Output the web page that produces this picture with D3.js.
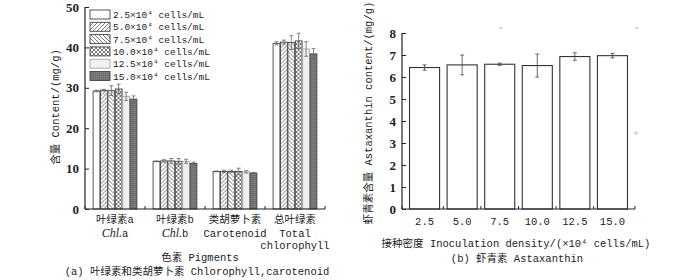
<!DOCTYPE html>
<html><head><meta charset="utf-8">
<script src="https://cdn.jsdelivr.net/npm/d3@7"></script>
<style>
body{margin:0;background:#fff;}
svg{display:block;}
.mono{font-family:"Liberation Mono","Noto Sans CJK SC",monospace;}
.num{font-family:"Liberation Serif","DejaVu Serif",serif;font-weight:bold;}
</style></head>
<body><svg id="c" width="700" height="280"></svg>
<script>
// ---- data ----
const pigments = ["Chl.a","Chl.b","Carotenoid","Total"];
const pigmentCN = ["叶绿素a","叶绿素b","类胡萝卜素","总叶绿素"];
const pigmentEN = [["Chl.a"],["Chl.b"],["Carotenoid"],["Total","chlorophyll"]];
const densities = ["2.5","5.0","7.5","10.0","12.5","15.0"];
const legendLabels = ["2.5×10⁴ cells/mL","5.0×10⁴ cells/mL","7.5×10⁴ cells/mL","10.0×10⁴ cells/mL","12.5×10⁴ cells/mL","15.0×10⁴ cells/mL"];
// values per pigment, one per density
const chlA      = [29.2, 29.4, 29.3, 29.7, 27.9, 27.2];
const chlAErr   = [0.2, 0.2, 1.2, 1.2, 1.0, 0.8];
const chlB      = [11.8, 11.9, 11.9, 11.8, 11.8, 11.3];
const chlBErr   = [0.1, 0.3, 0.6, 0.7, 0.5, 0.3];
const carot     = [9.3, 9.3, 9.3, 9.3, 9.2, 8.9];
const carotErr  = [0.1, 0.3, 0.3, 0.8, 0.3, 0.1];
const totalChl  = [41.0, 41.3, 41.2, 41.6, 39.6, 38.4];
const totalErr  = [0.4, 0.5, 1.7, 1.9, 1.8, 1.3];
const leftTicks = [0,10,20,30,40,50];
const astax     = [6.43, 6.55, 6.58, 6.52, 6.93, 6.97];
const astaxErr  = [0.12, 0.45, 0.05, 0.52, 0.17, 0.10];
const rightTicks = [0,1,2,3,4,5,6,7,8];

const svg = d3.select("#c");
const defs = svg.append("defs");
function hatch(id, paths, bg){
  const p = defs.append("pattern").attr("id",id).attr("patternUnits","userSpaceOnUse")
    .attr("width",4).attr("height",4);
  p.append("rect").attr("width",4).attr("height",4).attr("fill",bg);
  paths.forEach(d=>p.append("path").attr("d",d).attr("stroke","#555").attr("stroke-width",0.8).attr("fill","none"));
}
hatch("p1",["M-1,5 L5,-1","M-1,1 L1,-1","M3,5 L5,3"],"#fff");
hatch("p2",["M-1,-1 L5,5","M3,-1 L5,1","M-1,3 L1,5"],"#fff");
hatch("p3",["M-1,5 L5,-1","M-1,-1 L5,5"],"#fff");
{
  const p = defs.append("pattern").attr("id","p5").attr("patternUnits","userSpaceOnUse").attr("width",2).attr("height",2);
  p.append("rect").attr("width",2).attr("height",2).attr("fill","#6e6e6e");
  p.append("rect").attr("width",1).attr("height",1).attr("fill","#8a8a8a");
}
const fills = ["#fff","url(#p1)","url(#p2)","url(#p3)","#f0f0f0","url(#p5)"];
const strokes = ["#444","#444","#444","#444","#aaa","#444"];

// ---------- LEFT CHART ----------
const L = {x0:85, x1:325, y0:209, y1:7};
const yL = d3.scaleLinear().domain([0,50]).range([L.y0,L.y1]);
const xL = d3.scaleBand().domain(pigments).range([L.x0,L.x1]).paddingInner(0.25).paddingOuter(0.125);
const xS = d3.scaleBand().domain(d3.range(6)).range([0,xL.bandwidth()]).padding(0.08);
const seriesVals = [chlA,chlB,carot,totalChl];
const seriesErr = [chlAErr,chlBErr,carotErr,totalErr];
const gL = svg.append("g");
pigments.forEach((pg,pi)=>{
  const g = gL.append("g").attr("transform",`translate(${xL(pg)},0)`);
  seriesVals[pi].forEach((v,si)=>{
    g.append("rect").attr("x",xS(si)).attr("y",yL(v)).attr("width",xS.bandwidth())
      .attr("height",yL(0)-yL(v)).attr("fill",fills[si]).attr("stroke",strokes[si]).attr("stroke-width",0.9);
    const cx = xS(si)+xS.bandwidth()/2, e = seriesErr[pi][si];
    g.append("path").attr("d",`M${cx},${yL(v-e)}V${yL(v+e)}M${cx-2},${yL(v+e)}H${cx+2}M${cx-2},${yL(v-e)}H${cx+2}`)
      .attr("stroke","#666").attr("stroke-width",0.8).attr("fill","none");
  });
});
// axes
const axL = gL.append("g").attr("transform",`translate(${L.x0},0)`)
  .call(d3.axisLeft(yL).tickValues(leftTicks).tickSize(-4).tickFormat(d3.format("d")));
axL.select(".domain").attr("stroke","#222").attr("stroke-width",1.2).attr("d",`M0,${L.y0}V${L.y1}`);
axL.selectAll("line").attr("stroke","#222");
axL.selectAll("text").attr("class","num").attr("font-size",13).attr("x",-6).attr("fill","#222");
const bxL = gL.append("g").attr("transform",`translate(0,${L.y0})`);
bxL.append("line").attr("x1",L.x0).attr("x2",L.x1).attr("stroke","#222").attr("stroke-width",1.2);
const bounds = [L.x0].concat(pigments.slice(1).map(p=>xL(p)-xL.step()*xL.paddingInner()/2)).concat([L.x1]);
bounds.forEach(b=>bxL.append("line").attr("x1",b).attr("x2",b).attr("y1",0).attr("y2",-3).attr("stroke","#222"));
// category labels
pigments.forEach((pg,pi)=>{
  const cx = xL(pg)+xL.bandwidth()/2;
  gL.append("text").attr("class","mono").attr("font-size",10.5).attr("text-anchor","middle").attr("fill","#222")
    .attr("x",cx).attr("y",223).text(pigmentCN[pi]);
  pigmentEN[pi].forEach((s,k)=>{
    const t = gL.append("text").attr("class","mono").attr("font-size",10.5).attr("text-anchor","middle").attr("fill","#222")
      .attr("x",cx).attr("y",237+k*12);
    if(s.startsWith("Chl.")){
      t.append("tspan").attr("font-style","italic").attr("font-family","Liberation Serif").attr("font-size",12).text("Chl.");
      t.append("tspan").text(s.slice(4));
    } else t.text(s);
  });
});
gL.append("text").attr("class","mono").attr("font-size",10.5).attr("text-anchor","middle")
  .attr("x",200).attr("y",261).attr("fill","#222").text("色素 Pigments");
gL.append("text").attr("class","mono").attr("font-size",10.5).attr("text-anchor","middle")
  .attr("x",197).attr("y",275).attr("fill","#222").text("(a) 叶绿素和类胡萝卜素 Chlorophyll,carotenoid");
gL.append("text").attr("class","mono").attr("font-size",10.5).attr("text-anchor","middle")
  .attr("transform",`translate(59,107) rotate(-90)`).attr("fill","#222").text("含量 Content/(mg/g)");
// legend
const leg = gL.append("g");
legendLabels.forEach((lb,i)=>{
  const y = 10 + i*12.3;
  leg.append("rect").attr("x",90).attr("y",y).attr("width",20).attr("height",9)
    .attr("fill",fills[i]).attr("stroke",strokes[i]).attr("stroke-width",0.9);
  leg.append("text").attr("class","mono").attr("font-size",9.5).attr("x",113).attr("y",y+8).attr("fill","#222").text(lb);
});

// ---------- RIGHT CHART ----------
const R = {x0:402, x1:635, y0:209, y1:33};
const yR = d3.scaleLinear().domain([0,8]).range([R.y0,R.y1]);
const xR = d3.scaleBand().domain(densities).range([R.x0,R.x1]).paddingInner(0.2).paddingOuter(0.2);
const gR = svg.append("g");
densities.forEach((d,i)=>{
  const v = astax[i], e = astaxErr[i];
  gR.append("rect").attr("x",xR(d)).attr("y",yR(v)).attr("width",xR.bandwidth()).attr("height",yR(0)-yR(v))
    .attr("fill","#fff").attr("stroke","#333").attr("stroke-width",1.1);
  const cx = xR(d)+xR.bandwidth()/2;
  gR.append("path").attr("d",`M${cx},${yR(v-e)}V${yR(v+e)}M${cx-2},${yR(v+e)}H${cx+2}M${cx-2},${yR(v-e)}H${cx+2}`)
    .attr("stroke","#444").attr("stroke-width",0.8).attr("fill","none");
});
const axR = gR.append("g").attr("transform",`translate(${R.x0},0)`)
  .call(d3.axisLeft(yR).tickValues(rightTicks).tickSize(-4).tickFormat(d3.format("d")));
axR.select(".domain").attr("stroke","#222").attr("stroke-width",1.2).attr("d",`M0,${R.y0}V${R.y1}`);
axR.selectAll("line").attr("stroke","#222");
axR.selectAll("text").attr("class","num").attr("font-size",13).attr("x",-6).attr("fill","#222");
const bxR = gR.append("g").attr("transform",`translate(0,${R.y0})`)
  .call(d3.axisBottom(xR).tickSize(0).tickPadding(9));
bxR.select(".domain").attr("stroke","#222").attr("stroke-width",1.2).attr("d",`M${R.x0},0H${R.x1}`);
bxR.selectAll("text").attr("class","mono").attr("font-size",10.5).attr("fill","#222");
const rb = [R.x0].concat(densities.slice(1).map(d=>xR(d)-xR.step()*0.1)).concat([R.x1]);
rb.forEach(b=>bxR.append("line").attr("x1",b).attr("x2",b).attr("y1",0).attr("y2",-3).attr("stroke","#222"));
gR.append("text").attr("class","mono").attr("font-size",10.5).attr("text-anchor","middle")
  .attr("transform",`translate(372,113) rotate(-90)`).attr("fill","#222").text("虾青素含量 Astaxanthin content/(mg/g)");
gR.append("text").attr("class","mono").attr("font-size",10.5).attr("text-anchor","middle")
  .attr("x",516).attr("y",247).attr("fill","#222").text("接种密度 Inoculation density/(×10⁴ cells/mL)");
gR.append("text").attr("class","mono").attr("font-size",10.5).attr("text-anchor","middle")
  .attr("x",517).attr("y",262).attr("fill","#222").text("(b) 虾青素 Astaxanthin");
// small stray marks from the original
gR.append("line").attr("x1",499).attr("x2",502).attr("y1",28).attr("y2",28).attr("stroke","#aaa");
gR.append("line").attr("x1",635).attr("x2",638).attr("y1",28).attr("y2",28).attr("stroke","#aaa");
gR.append("circle").attr("cx",636).attr("cy",133).attr("r",1.3).attr("fill","none").attr("stroke","#999").attr("stroke-width",0.6);
</script></body></html>
